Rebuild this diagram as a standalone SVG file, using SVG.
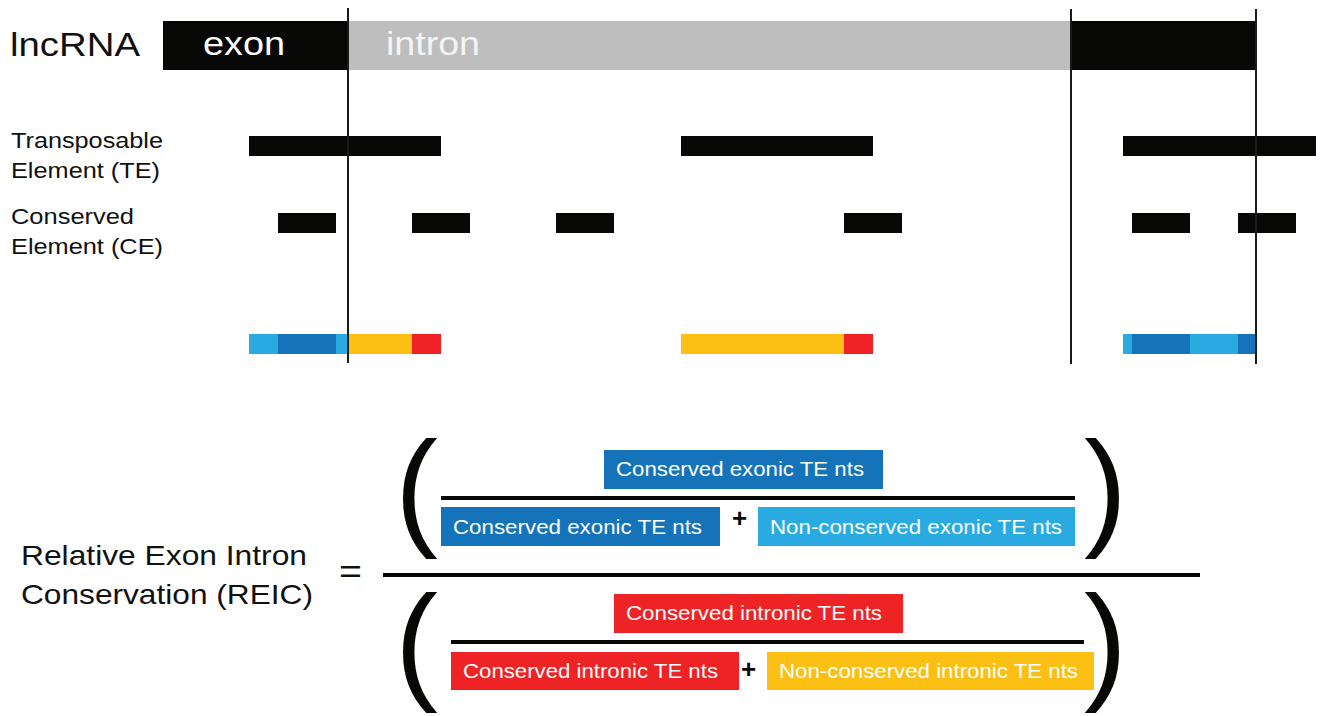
<svg xmlns="http://www.w3.org/2000/svg" width="1321" height="716" viewBox="0 0 1321 716">
  <style>
    .lbl { font-family: "Liberation Sans", Arial, sans-serif; fill: #111; }
    .box-t { font-family: "Liberation Sans", Arial, sans-serif; fill: #fff; font-size: 20px; }
    .blk { fill: #070705; }
    .dblue { fill: #1473B9; }
    .lblue { fill: #29ABE2; }
    .yel { fill: #FCC015; }
    .red { fill: #EE2325; }
    .rule { stroke: #1a1a1a; stroke-width: 2; }
    .frac { stroke: #070705; stroke-width: 4; }
    .paren { font-family: "Liberation Sans", Arial, sans-serif; font-size: 129px; fill: #070705; }
    .plus { font-family: "Liberation Sans", Arial, sans-serif; font-size: 26px; font-weight: bold; fill: #070705; }
  </style>

  <!-- gene model: exon / intron / exon -->
  <g id="gene">
    <text class="lbl" x="10" y="56" font-size="34" textLength="130" lengthAdjust="spacingAndGlyphs">lncRNA</text>
    <rect class="blk" x="163" y="21" width="185" height="49"/>
    <rect x="348" y="21" width="722" height="49" fill="#BEBEBE"/>
    <rect class="blk" x="1070" y="21" width="187" height="49"/>
    <text x="203" y="55" font-size="34" fill="#fff" font-family="Liberation Sans, Arial, sans-serif" textLength="82" lengthAdjust="spacingAndGlyphs">exon</text>
    <text x="386" y="55" font-size="34" fill="#f4f4f4" font-family="Liberation Sans, Arial, sans-serif" textLength="94" lengthAdjust="spacingAndGlyphs">intron</text>
  </g>

  <!-- transposable elements -->
  <g id="te-track">
    <text class="lbl" x="11" y="148" font-size="22" textLength="152" lengthAdjust="spacingAndGlyphs">Transposable</text>
    <text class="lbl" x="11" y="178" font-size="22" textLength="149" lengthAdjust="spacingAndGlyphs">Element (TE)</text>
    <rect class="blk" x="249" y="136" width="192" height="20"/>
    <rect class="blk" x="681" y="136" width="192" height="20"/>
    <rect class="blk" x="1123" y="136" width="193" height="20"/>
  </g>

  <!-- conserved elements -->
  <g id="ce-track">
    <text class="lbl" x="11" y="224" font-size="22" textLength="123" lengthAdjust="spacingAndGlyphs">Conserved</text>
    <text class="lbl" x="11" y="254" font-size="22" textLength="152" lengthAdjust="spacingAndGlyphs">Element (CE)</text>
    <rect class="blk" x="278" y="213" width="58" height="20"/>
    <rect class="blk" x="412" y="213" width="58" height="20"/>
    <rect class="blk" x="556" y="213" width="58" height="20"/>
    <rect class="blk" x="844" y="213" width="58" height="20"/>
    <rect class="blk" x="1132" y="213" width="58" height="20"/>
    <rect class="blk" x="1238" y="213" width="58" height="20"/>
  </g>

  <!-- TE nucleotides classified by exon/intron and conservation -->
  <g id="classified-track">
    <rect class="lblue" x="249" y="334" width="29" height="20"/>
    <rect class="dblue" x="278" y="334" width="58" height="20"/>
    <rect class="lblue" x="336" y="334" width="12" height="20"/>
    <rect class="yel" x="348" y="334" width="64" height="20"/>
    <rect class="red" x="412" y="334" width="29" height="20"/>
    <rect class="yel" x="681" y="334" width="163" height="20"/>
    <rect class="red" x="844" y="334" width="29" height="20"/>
    <rect class="lblue" x="1123" y="334" width="9" height="20"/>
    <rect class="dblue" x="1132" y="334" width="58" height="20"/>
    <rect class="lblue" x="1190" y="334" width="48" height="20"/>
    <rect class="dblue" x="1238" y="334" width="19" height="20"/>
  </g>

  <!-- exon/intron boundary guides -->
  <g id="boundaries">
    <line class="rule" x1="348" y1="8" x2="348" y2="363"/>
    <line class="rule" x1="1071" y1="9" x2="1071" y2="364"/>
    <line class="rule" x1="1256" y1="9" x2="1256" y2="364"/>
  </g>

  <!-- REIC formula -->
  <g id="formula-label">
    <text class="lbl" x="21" y="565" font-size="28" textLength="286" lengthAdjust="spacingAndGlyphs">Relative Exon Intron</text>
    <text class="lbl" x="21" y="604" font-size="28" textLength="292" lengthAdjust="spacingAndGlyphs">Conservation (REIC)</text>
    <text class="lbl" x="339" y="583" font-size="34" textLength="23" lengthAdjust="spacingAndGlyphs">=</text>
    <line class="frac" x1="383" y1="575" x2="1200" y2="575"/>
  </g>

  <g id="numerator">
    <text class="paren" x="395" y="532">(</text>
    <text class="paren" x="1084" y="532">)</text>
    <rect class="dblue" x="604" y="450" width="279" height="39"/>
    <text class="box-t" x="616" y="476" textLength="248" lengthAdjust="spacingAndGlyphs">Conserved exonic TE nts</text>
    <line class="frac" x1="441" y1="498" x2="1075" y2="498"/>
    <rect class="dblue" x="441" y="507" width="279" height="39"/>
    <text class="box-t" x="453" y="534" textLength="249" lengthAdjust="spacingAndGlyphs">Conserved exonic TE nts</text>
    <text class="plus" x="732" y="527">+</text>
    <rect class="lblue" x="758" y="507" width="317" height="39"/>
    <text class="box-t" x="770" y="534" textLength="292" lengthAdjust="spacingAndGlyphs">Non-conserved exonic TE nts</text>
  </g>

  <g id="denominator">
    <text class="paren" x="395" y="686">(</text>
    <text class="paren" x="1084" y="686">)</text>
    <rect class="red" x="614" y="594" width="289" height="39"/>
    <text class="box-t" x="626" y="620" textLength="256" lengthAdjust="spacingAndGlyphs">Conserved intronic TE nts</text>
    <line class="frac" x1="451" y1="642" x2="1084" y2="642"/>
    <rect class="red" x="451" y="652" width="288" height="38"/>
    <text class="box-t" x="463" y="678" textLength="255" lengthAdjust="spacingAndGlyphs">Conserved intronic TE nts</text>
    <text class="plus" x="741" y="678">+</text>
    <rect class="yel" x="767" y="652" width="327" height="38"/>
    <text class="box-t" x="779" y="678" textLength="299" lengthAdjust="spacingAndGlyphs">Non-conserved intronic TE nts</text>
  </g>
</svg>
